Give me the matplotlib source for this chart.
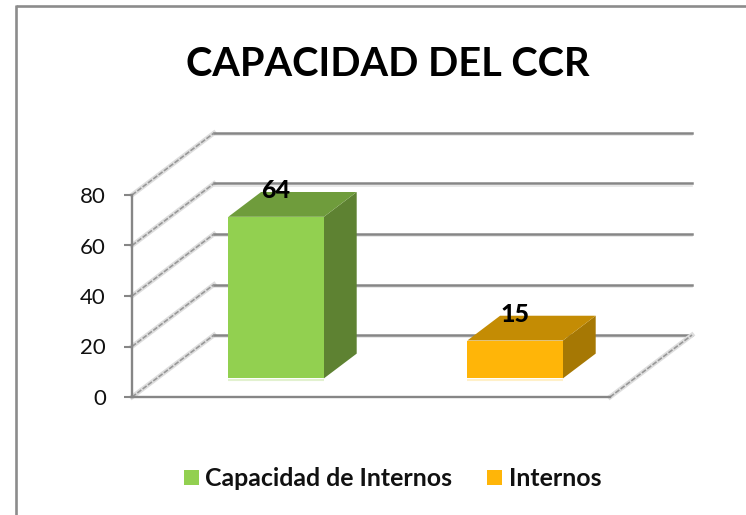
import matplotlib
matplotlib.use("Agg")
import matplotlib.pyplot as plt
from matplotlib.patches import Polygon, Rectangle

plt.rcParams['font.family'] = ['Lato', 'Noto Sans', 'DejaVu Sans']

# datos
series = ["Capacidad de Internos", "Internos"]
values = [64, 15]
y_ticks = [0, 20, 40, 60, 80]
titulo = "CAPACIDAD DEL CCR"

# colores: frente, techo, lateral, brillo inferior
front_colors = ["#92D050", "#FFB508"]
top_colors = ["#6F9C3C", "#C48C04"]
side_colors = ["#5E8232", "#A67804"]
glow_colors = ["#E2F1CF", "#FFF0C8"]
GRID = "#868686"

W, H = 746, 515
fig = plt.figure(figsize=(W / 100, H / 100), dpi=100)

# marco del grafico (solo arriba e izquierda se ven en el recorte)
bg = fig.add_axes([0, 0, 1, 1])
bg.set_xlim(0, W)
bg.set_ylim(H, 0)
bg.axis("off")
bg.plot([16, W], [5.5, 5.5], color="#8c8c8c", lw=1.9, solid_capstyle="butt")
bg.plot([16, 16], [5, H], color="#8c8c8c", lw=1.9, solid_capstyle="butt")

# ejes: 0 en y=397, 80 en y=195, categorias de 239 px
ax = fig.add_axes([132 / W, (H - 397) / H, 560 / W, 264 / H])
ax.set_xlim(0, 560 / 239)
ax.set_ylim(0, 264 / 2.525)
ax.patch.set_visible(False)
ax.set_xticks([])
ax.set_yticks(y_ticks)
ax.tick_params(axis="y", length=5.8, width=1.5, color=GRID, labelsize=16, pad=13, labelcolor="#111111")
for s in ["top", "right"]:
    ax.spines[s].set_visible(False)
for s in ["left", "bottom"]:
    ax.spines[s].set_color(GRID)
    ax.spines[s].set_linewidth(1.7)
ax.spines["left"].set_bounds(0, 80)
ax.spines["bottom"].set_bounds(0, 2)

# profundidad en unidades de datos
DX = 82 / 239
DY = 62 / 2.525


def depth(x, y, d):
    return (x + DX * d, y + DY * d)


# rejilla: pared lateral y pared del fondo
for t in y_ticks:
    ax.plot([0, DX], [t, t + DY], color="#dedede", lw=3.4, zorder=1, clip_on=False)
    ax.plot([0, DX], [t, t + DY], color="#989898", lw=1.2, ls=(0, (3, 1)), zorder=1.1, clip_on=False)
    ax.plot([DX, 2 + DX], [t + DY, t + DY], color=GRID, lw=1.8, zorder=1, clip_on=False)
    ax.plot([DX, 2 + DX], [t + DY - 0.9, t + DY - 0.9], color="#e4e4e4", lw=1.2, zorder=0.9, clip_on=False)

# borde derecho del suelo
ax.plot([2, 2 + DX], [0, DY], color="#dedede", lw=3.4, zorder=1, clip_on=False)
ax.plot([2, 2 + DX], [0, DY], color="#989898", lw=1.2, ls=(0, (3, 1)), zorder=1.1, clip_on=False)

# barras 3D
BAR_W = 0.4
D0, D1 = 0.3, 0.7
for i, v in enumerate(values):
    x0 = i + 0.5 - BAR_W / 2
    x1 = i + 0.5 + BAR_W / 2
    front = [depth(x0, 0, D0), depth(x1, 0, D0), depth(x1, v, D0), depth(x0, v, D0)]
    top = [depth(x0, v, D0), depth(x1, v, D0), depth(x1, v, D1), depth(x0, v, D1)]
    side = [depth(x1, 0, D0), depth(x1, 0, D1), depth(x1, v, D1), depth(x1, v, D0)]
    ax.add_patch(Polygon(side, fc=side_colors[i], ec="none", zorder=3))
    ax.add_patch(Polygon(top, fc=top_colors[i], ec="none", zorder=3))
    ax.add_patch(Polygon(front, fc=front_colors[i], ec="none", zorder=4))
    # brillo bajo la cara frontal
    ax.plot([front[0][0], front[1][0]], [front[0][1] - 0.5, front[1][1] - 0.5], color=glow_colors[i],
            lw=1.5, solid_capstyle="butt", zorder=2)
    lx, ly = depth(i + 0.5, v, D0)
    ax.annotate(str(v), (lx, ly), xytext=(0, 18.7), textcoords="offset points", ha="center", va="center",
                fontsize=18, fontweight="black", color="black", zorder=5)

fig.text(388 / W, 1 - 64 / H, titulo, ha="center", va="center", fontsize=28.6, fontweight="bold", color="black")

# leyenda
swatch_x = [184, 487]
text_x = [205, 509]
for i, name in enumerate(series):
    bg.add_patch(Rectangle((swatch_x[i], 470), 15, 15, fc=front_colors[i], ec="none"))
    bg.text(text_x[i], 478, name, ha="left", va="center", fontsize=17.9, fontweight="bold", color="#111111")

fig.savefig("out.png", dpi=100)
